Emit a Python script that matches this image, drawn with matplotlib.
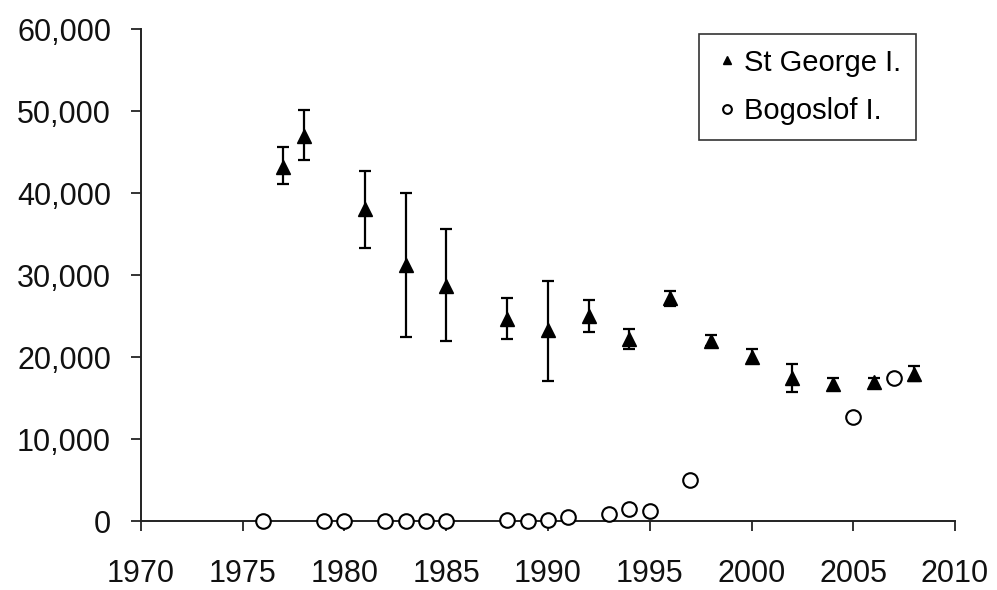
import matplotlib.pyplot as plt
import matplotlib.ticker as mticker
import numpy as np

plt.rcParams['font.family'] = ['Liberation Sans', 'DejaVu Sans']

# St George I. (mean with error range)
sg_years = [1977, 1978, 1981, 1983, 1985, 1988, 1990, 1992, 1994, 1996, 1998, 2000, 2002, 2004, 2006, 2008]
sg_values = [43200, 47000, 38000, 31200, 28700, 24600, 23300, 25000, 22200, 27200, 21900, 20000, 17400, 16700, 16900, 17900]
sg_upper = [45600, 50100, 42700, 40000, 35600, 27200, 29300, 27000, 23400, 28000, 22700, 21000, 19100, 17400, 17500, 18900]
sg_lower = [41100, 44000, 33300, 22400, 22000, 22200, 17100, 23000, 21000, 26200, 21300, 19300, 15700, 16000, 16200, 17100]

# Bogoslof I.
bg_years = [1976, 1979, 1980, 1982, 1983, 1984, 1985, 1988, 1989, 1990, 1991, 1993, 1994, 1995, 1997, 2005, 2007]
bg_values = [0, 0, 0, 0, 0, 0, 0, 100, 0, 100, 500, 900, 1450, 1200, 5000, 12650, 17500]

fig = plt.figure(figsize=(9.97, 5.9), dpi=100)
ax = fig.add_axes([0.1414, 0.1169, 0.8165, 0.8339])

yerr = np.array([np.array(sg_values) - np.array(sg_lower),
                 np.array(sg_upper) - np.array(sg_values)])
ax.errorbar(sg_years, sg_values, yerr=yerr, fmt='none', ecolor='black',
            elinewidth=1.6, capsize=4.5, capthick=1.6, zorder=2)
ax.plot(sg_years, sg_values, linestyle='none', marker='^', markersize=10,
        color='black', label='St George I.', zorder=3)
ax.plot(bg_years, bg_values, linestyle='none', marker='o', markersize=10.5,
        markerfacecolor='white', markeredgecolor='black', markeredgewidth=1.5,
        label='Bogoslof I.', zorder=4, clip_on=False)

ax.set_xlim(1970, 2010)
ax.set_ylim(0, 60000)
ax.set_xticks(range(1970, 2011, 5))
ax.set_yticks(range(0, 60001, 10000))
ax.yaxis.set_major_formatter(mticker.FuncFormatter(lambda v, p: f'{int(v):,}'))

for s in ['top', 'right']:
    ax.spines[s].set_visible(False)
for s in ['left', 'bottom']:
    ax.spines[s].set_linewidth(1.4)
    ax.spines[s].set_color('#222222')
ax.tick_params(axis='both', direction='out', length=7.5, width=1.4,
               colors='#333333', labelsize=22, labelcolor='#111111')
ax.tick_params(axis='x', pad=20)
ax.tick_params(axis='y', pad=14)

leg = ax.legend(loc='upper right', bbox_to_anchor=(0.952, 0.99), fontsize=21,
                frameon=True, fancybox=False, markerscale=0.6, handlelength=0.9,
                handletextpad=0.15, borderpad=0.5, labelspacing=0.7,
                borderaxespad=0)
leg.get_frame().set_edgecolor('black')
leg.get_frame().set_linewidth(1.2)

plt.savefig('out.png', dpi=100)
